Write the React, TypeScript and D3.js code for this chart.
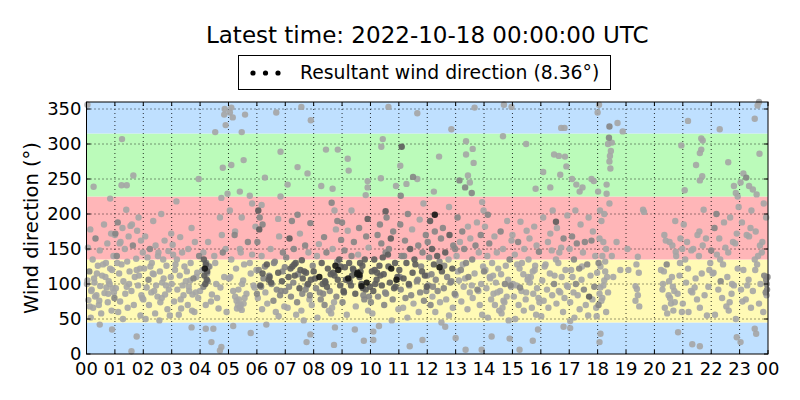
import React, {useEffect, useRef} from "react";
import * as d3 from "d3";

// each observation: [minute in the hour, wind direction (deg), shade 0..3]
type Obs = [number, number, number];

const h00: Obs[] = [[2,356,0],[15,239,0],[50,222,0],[28,42,0],[54,35,0],
  [37,185,0],[8,178,0],[52,172,0],[19,165,1],[44,158,0],[3,152,0],[28,148,0],[57,140,0],[13,135,0],[41,130,0],[24,126,0],[50,122,0],[6,118,1],[33,112,0],[16,108,0],[47,104,0],[1,100,0],[29,97,0],[55,94,0],[10,90,0],[38,87,0],[21,84,0],[59,80,1],[4,77,0],[45,74,0],[26,70,0],[14,66,0],[53,62,0],[31,58,0],[9,52,0],[42,95,0],[18,82,0],[49,100,0],[2,105,0],[35,128,0],[22,115,0],[58,88,0],[11,92,0],[40,110,0],[27,76,0],[7,68,0],[54,120,0],[17,102,0],[46,86,0]];
const h01: Obs[] = [[15,307,0],[14,241,0],[25,241,0],[39,255,0],[46,25,0],[35,4,0],
  [24,206,0],[50,195,0],[6,188,1],[33,183,0],[16,180,0],[47,176,0],[1,172,1],[29,168,0],[55,162,0],[10,158,0],[38,155,1],[21,150,0],[59,145,0],[4,140,1],[45,136,0],[26,132,0],[14,128,0],[53,122,0],[31,118,0],[9,115,0],[42,110,0],[18,104,0],[49,98,0],[2,94,0],[35,90,0],[22,86,0],[58,80,0],[11,75,0],[40,70,0],[27,66,0],[7,60,0],[54,55,0],[17,50,0],[46,120,0],[30,100,0],[0,170,0],[36,185,0],[12,160,0],[51,112,0],[25,96,0],[56,84,0],[5,130,0]];
const h02: Obs[] = [[38,200,0],[21,190,0],[59,172,0],[4,168,0],[45,162,0],[26,155,0],[14,150,1],[53,147,0],[31,140,0],[9,138,0],[42,135,0],[18,130,0],[49,126,0],[2,122,0],[35,118,0],[22,114,0],[58,110,0],[11,106,1],[40,102,0],[27,98,0],[7,95,0],[54,92,0],[17,88,0],[46,85,0],[30,82,0],[0,78,0],[36,74,0],[12,70,0],[51,64,0],[25,58,0],[56,55,0],[5,50,0],[34,48,0],[20,115,0],[48,98,0],[15,125,0],[43,108,0],[23,90,0],[39,80,0],[32,145,0]];
const h03: Obs[] = [[10,218,0],[57,250,0],[42,38,0],
  [42,180,0],[18,167,0],[49,160,0],[2,156,0],[35,150,0],[22,145,0],[58,140,1],[11,135,0],[40,130,0],[27,125,0],[7,120,0],[54,116,0],[17,112,0],[46,108,1],[30,104,0],[0,100,0],[36,96,0],[12,92,0],[51,88,0],[25,84,0],[56,80,0],[5,75,0],[34,70,0],[20,65,0],[48,60,0],[15,56,0],[43,62,0],[23,98,0],[39,105,0],[32,118,0],[37,90,0],[8,128,0],[52,110,0],[19,78,0],[44,85,0],[3,142,0]];
const h04: Obs[] = [[42,195,0],[45,223,0],[48,266,0],[51,342,0],[52,350,0],[54,327,0],[32,317,0],[58,229,0],[12,36,0],[28,36,0],[24,17,0],[45,10,0],[42,5,0],
  [8,135,2],[12,128,2],[10,122,3],[15,118,2],[9,112,2],[14,106,2],[11,100,2],[7,96,1],[16,104,1],[13,130,1],[18,125,1],
  [7,145,0],[54,150,0],[17,160,0],[46,170,0],[30,140,0],[0,90,0],[36,80,0],[12,70,0],[51,110,0],[25,85,0],[56,60,0],[5,120,0],[34,100,0],[20,125,0],[48,145,1],[15,115,0],[43,95,0],[23,75,0],[39,65,0],[32,130,0]];
const h05: Obs[] = [[3,345,0],[6,352,0],[9,338,0],[6,270,0],[28,317,0],[35,342,0],[32,277,0],[24,232,0],[45,226,0],[50,215,0],[10,40,0],[47,30,0],
  [14,82,0],[17,76,0],[20,70,0],[24,66,0],[28,63,0],[32,72,0],[34,80,0],[18,65,0],[22,78,0],[26,70,0],
  [3,205,0],[28,195,0],[57,182,0],[13,170,1],[41,160,1],[24,150,0],[50,142,0],[6,135,0],[33,128,0],[16,122,0],[47,115,0],[1,108,0],[29,100,0],[55,95,0],[10,90,0],[38,86,0],[21,92,0],[59,120,0],[4,110,0],[45,130,0],[26,145,0],[14,175,0],[53,98,0],[31,105,0]];
const h06: Obs[] = [[10,213,0],[17,252,0],[50,225,0],[41,345,0],[50,289,0],[20,42,0],
  [3,205,2],[6,195,1],[12,185,1],[5,178,2],[45,193,0],
  [47,168,0],[1,160,1],[29,150,0],[55,145,1],[10,140,0],[38,132,1],[21,128,2],[59,124,1],[4,120,1],[45,116,2],[26,112,1],[14,108,1],[53,104,2],[31,100,1],[9,96,1],[42,92,1],[18,88,0],[49,84,1],[2,80,0],[35,76,1],[22,72,0],[58,68,0],[11,64,0],[40,60,0],[27,110,2],[7,98,2],[54,118,1],[17,125,1],[46,54,0],[30,102,2],[0,86,1],[36,130,1],[12,115,2],[51,90,1],[25,106,2]];
const h07: Obs[] = [[34,353,0],[54,334,0],[26,267,0],[47,258,0],[5,242,0],[45,17,0],[53,28,0],
  [26,199,1],[14,190,1],[53,187,1],[31,172,0],[9,165,2],[42,155,1],[18,150,1],[49,145,0],[2,138,1],[35,134,2],[22,130,2],[58,126,1],[11,122,2],[40,118,2],[27,114,1],[7,110,2],[54,106,2],[17,102,1],[46,98,1],[30,94,2],[0,90,1],[36,86,1],[12,82,1],[51,78,0],[25,74,1],[56,70,0],[5,66,0],[34,62,0],[20,112,2],[48,100,2],[15,125,2],[43,92,1],[23,56,0],[39,48,0],[32,120,2],[37,108,2],[8,96,1],[52,84,1],[19,128,2],[44,116,2]];
const h08: Obs[] = [[26,292,0],[51,292,0],[16,240,0],[40,236,0],[38,216,1],[44,205,0],[50,190,1],[47,178,0],[45,38,0],[43,13,0],
  [22,167,1],[58,163,1],[11,157,0],[40,150,0],[27,145,1],[7,140,0],[54,135,2],[17,130,2],[46,126,3],[30,122,2],[0,118,2],[36,114,2],[12,110,3],[51,106,2],[25,102,2],[56,98,2],[5,94,1],[34,90,1],[20,86,1],[48,82,1],[15,78,1],[43,74,0],[23,70,1],[39,66,0],[32,62,0],[37,58,0],[8,52,0],[52,120,3],[19,100,2],[44,112,2],[3,108,2],[28,96,2],[57,125,2],[13,88,1],[41,116,2],[24,104,2],[50,132,1]];
const h09: Obs[] = [[12,279,0],[14,262,0],[54,247,0],[54,238,0],[50,227,0],[54,193,2],[20,205,0],[41,97,3],[37,113,3],[27,35,0],[46,19,0],
  [0,188,1],[36,180,1],[12,176,0],[51,168,1],[25,160,1],[56,152,0],[5,148,1],[34,142,0],[20,140,1],[48,135,2],[15,130,2],[43,126,2],[23,122,2],[39,118,2],[32,114,3],[37,110,2],[8,106,2],[52,102,3],[19,98,2],[44,94,2],[3,90,2],[28,86,2],[57,82,1],[13,108,3],[41,100,2],[24,120,2],[50,92,2],[6,124,2],[33,116,3],[16,104,2],[47,78,1],[1,74,1],[29,68,0],[55,62,0],[10,56,0],[38,130,2],[21,112,2],[59,96,2],[4,88,2],[45,84,1]];
const h10: Obs[] = [[38,353,0],[26,307,0],[23,296,0],[22,251,0],[54,240,0],[32,204,2],[6,20,0],[6,32,0],[18,40,0],
  [34,195,1],[20,185,1],[48,175,1],[15,170,1],[43,165,2],[23,158,1],[39,150,1],[32,145,1],[37,142,2],[8,135,2],[52,130,2],[19,126,2],[44,122,3],[3,118,2],[28,114,2],[57,110,2],[13,106,2],[41,102,2],[24,98,2],[50,94,2],[6,90,2],[33,86,1],[16,82,1],[47,78,1],[1,74,1],[29,70,1],[55,106,3],[10,100,2],[38,125,2],[21,112,2],[59,64,0],[4,58,0],[45,48,0],[26,138,2],[14,116,2],[53,96,2],[31,88,1],[9,120,2]];
const h11: Obs[] = [[39,344,0],[6,296,2],[3,269,0],[30,253,1],[39,250,0],[16,243,0],[4,226,1],[50,20,0],[23,11,0],
  [52,215,0],[19,200,1],[44,192,0],[3,185,1],[28,178,0],[57,170,1],[13,162,1],[41,155,1],[24,150,2],[50,145,1],[6,140,1],[33,135,2],[16,130,2],[47,125,1],[1,120,2],[29,116,2],[55,112,2],[10,108,2],[38,104,1],[21,100,2],[59,96,2],[4,92,1],[45,88,1],[26,84,1],[14,80,1],[53,76,1],[31,72,0],[9,66,0],[42,60,0],[18,52,0],[49,118,2],[2,110,1],[35,128,2],[22,98,1],[58,90,1],[11,140,1],[40,106,1]];
const h12: Obs[] = [[25,282,0],[51,321,0],[16,199,3],[26,124,3],[38,39,0],[14,232,0],[46,210,0],
  [6,190,2],[33,180,1],[16,175,1],[47,170,2],[1,160,1],[29,165,1],[55,155,1],[10,150,2],[38,145,2],[21,140,2],[59,150,1],[4,138,1],[45,135,0],[26,132,1],[14,128,2],[53,122,2],[31,118,2],[9,114,1],[42,110,1],[18,106,1],[49,102,1],[2,98,1],[35,94,1],[22,90,1],[58,86,1],[11,82,0],[40,78,0],[27,74,0],[7,70,1],[54,66,0],[17,60,0],[46,55,0],[30,45,0],[0,112,1],[36,126,1],[12,96,1],[51,104,1]];
const h13: Obs[] = [[40,352,0],[22,304,0],[36,293,0],[22,285,0],[38,273,0],[8,248,1],[26,255,0],[30,245,0],[20,238,1],[34,230,1],[56,217,0],[0,23,0],[21,6,0],[55,6,0],
  [59,205,0],[4,195,1],[45,188,0],[26,182,0],[14,175,1],[53,170,1],[31,165,0],[9,160,0],[42,155,1],[18,150,1],[49,145,0],[2,140,0],[35,135,1],[22,130,1],[58,125,0],[11,120,1],[40,115,0],[27,110,1],[7,105,0],[54,100,0],[17,96,0],[46,92,1],[30,88,0],[0,84,0],[36,80,0],[12,75,0],[51,70,0],[25,64,0],[56,56,0],[5,118,0],[34,98,0],[20,108,0],[48,90,0],[15,128,0]];
const h14: Obs[] = [[42,356,0],[58,353,0],[40,311,0],[8,199,1],[16,25,0],[54,22,0],
  [49,190,0],[2,182,0],[35,175,1],[22,168,0],[58,162,0],[11,158,1],[40,150,0],[27,145,0],[7,140,0],[54,135,1],[17,130,0],[46,126,0],[30,122,0],[0,118,1],[36,114,0],[12,110,0],[51,106,0],[25,102,0],[56,98,1],[5,94,0],[34,90,0],[20,86,0],[48,82,0],[15,78,0],[43,74,0],[23,70,0],[39,66,0],[32,62,0],[37,58,0],[8,52,0],[52,48,0],[19,112,0],[44,100,1],[3,120,0],[28,88,0],[57,96,0],[13,108,0],[41,76,0]];
const h15: Obs[] = [[29,300,0],[49,236,0],[15,6,0],[54,35,0],[43,19,0],
  [17,189,0],[46,182,0],[30,176,0],[0,170,0],[36,165,0],[12,160,1],[51,155,0],[25,150,0],[56,146,1],[5,142,0],[34,135,0],[20,130,0],[48,126,0],[15,122,0],[43,118,0],[23,114,0],[39,110,0],[32,106,0],[37,102,0],[8,98,0],[52,94,0],[19,90,0],[44,86,0],[3,82,0],[28,78,0],[57,74,0],[13,70,0],[41,66,0],[24,62,0],[50,56,0],[6,50,0],[33,110,0],[16,95,1],[47,120,0],[1,100,0],[29,88,0],[55,80,0],[10,128,0]];
const h16: Obs[] = [[43,323,0],[50,323,0],[28,285,0],[38,283,0],[51,282,0],[5,260,0],[54,268,0],[41,256,0],[20,238,0],[32,189,2],[48,39,0],
  [25,205,0],[56,198,0],[5,195,0],[34,180,0],[20,172,0],[48,165,1],[15,160,0],[43,152,0],[23,148,0],[39,145,0],[32,135,0],[37,130,0],[8,125,0],[52,120,0],[19,115,0],[44,110,0],[3,105,0],[28,100,1],[57,96,0],[13,92,0],[41,88,0],[24,84,0],[50,80,0],[6,76,0],[33,72,0],[16,66,0],[47,60,0],[1,54,0],[29,112,0],[55,98,0],[10,128,0],[38,90,0]];
const h17: Obs[] = [[6,250,0],[15,242,0],[22,232,0],[28,238,0],[47,250,0],[52,247,0],[2,37,0],[57,66,0],[2,47,0],
  [13,205,0],[41,195,0],[24,185,0],[50,175,0],[6,168,1],[33,160,1],[16,158,1],[47,162,1],[1,150,0],[29,145,0],[55,140,0],[10,135,1],[38,128,1],[21,122,1],[59,116,0],[4,120,0],[45,112,0],[26,106,0],[14,100,1],[53,96,1],[31,92,1],[9,88,0],[42,82,2],[18,84,0],[49,78,0],[2,74,0],[35,70,0],[22,64,0],[58,54,0],[11,52,0],[40,55,0],[27,125,0],[7,110,0]];
const h18: Obs[] = [[3,356,0],[0,345,0],[25,325,1],[42,330,0],[53,318,0],[24,309,1],[22,300,0],[30,302,0],[28,290,0],[26,283,0],[25,275,0],[27,265,0],[1,232,0],[19,242,0],[19,229,0],[25,215,0],[5,205,0],[14,200,0],[8,190,0],[4,165,0],[12,160,0],[18,150,0],[10,140,0],[2,130,1],[6,125,0],[16,118,0],[14,105,0],[20,110,0],[6,95,0],[4,86,0],[10,80,0],[2,70,1],[18,60,0],[6,29,0],[4,17,0],[40,160,0],[48,120,0],[30,140,0],[33,110,0],[12,98,0],[16,132,0],[8,76,0],[22,88,0]];
const h19: Obs[] = [[36,206,0],[38,203,0],[25,139,0],[22,128,0],[27,116,0],[20,97,0],[23,93,0],[25,84,0],[20,76,0],[28,68,0],[5,120,0],[3,150,0]];
const h20: Obs[] = [[57,298,0],[50,31,0],[44,190,0],
  [55,165,0],[32,160,0],[38,155,0],[21,170,0],[59,150,0],[24,162,0],[45,146,0],[26,128,1],[14,120,0],[53,112,0],[31,104,0],[39,96,0],[42,90,0],[18,100,0],[49,86,0],[33,80,0],[35,72,0],[22,66,0],[58,60,0],[43,74,0],[40,62,0],[27,58,0],[37,110,0],[54,130,0],[17,92,0],[46,140,0],[30,84,0],[20,118,0]];
const h21: Obs[] = [[11,333,0],[39,308,0],[42,305,0],[39,292,0],[36,287,0],[28,270,0],[41,254,0],[36,248,0],[4,234,0],[44,206,0],[20,14,0],[36,11,0],
  [31,170,0],[9,160,0],[42,155,0],[18,148,0],[49,165,0],[2,185,0],[35,175,0],[22,150,0],[58,130,0],[11,122,0],[40,115,0],[27,108,0],[7,102,0],[54,96,0],[17,90,0],[46,84,0],[30,78,0],[0,72,0],[36,66,0],[12,60,0],[51,55,0],[25,95,0],[56,120,0],[5,135,0],[34,140,0],[20,88,0]];
const h22: Obs[] = [[18,321,0],[36,274,0],[48,240,0],[52,230,0],[56,225,0],[54,24,0],
  [58,210,0],[11,200,1],[40,195,0],[27,188,0],[7,180,1],[54,172,0],[17,165,0],[46,160,0],[30,152,0],[0,148,1],[36,145,0],[12,142,0],[51,158,0],[25,128,0],[56,122,0],[5,116,0],[34,110,0],[20,104,1],[48,98,0],[15,92,0],[43,86,0],[23,80,0],[39,74,0],[32,68,0],[37,62,0],[8,56,0],[52,50,0],[19,135,0],[44,100,0],[3,115,0]];
const h23: Obs[] = [[41,360,0],[38,355,0],[32,336,0],[42,286,0],[2,245,0],[8,258,0],[14,252,1],[20,240,0],[28,235,0],[36,228,0],[2,17,0],[32,36,0],[35,29,0],
  [51,215,0],[25,205,0],[56,195,0],[5,188,0],[34,175,0],[20,168,0],[48,160,0],[15,170,0],[43,155,0],[23,180,0],[39,140,0],[32,135,0],[37,128,0],[8,120,0],[52,112,1],[19,106,0],[44,100,0],[3,92,0],[28,90,0],[57,84,0],[13,78,0],[41,72,0],[24,66,0],[50,60,0],[6,75,0],[33,120,0],[16,98,0],[47,145,0],
  [57,100,1],[58,92,1],[56,106,1],[59,110,1],[55,88,1]];

const hourly = [h00, h01, h02, h03, h04, h05, h06, h07, h08, h09, h10, h11, h12, h13, h14, h15, h16, h17, h18, h19, h20, h21, h22, h23];

// direction sectors shaded behind the points
const sectorEdges = [0, 45, 135, 225, 315, 360];
const sectorColors = ["#bfe0ff", "#fffab5", "#ffb6b8", "#bbfbba", "#bfe0ff"];

const yTicks = [0, 50, 100, 150, 200, 250, 300, 350];
const xTicks = d3.range(0, 25);

const title = "Latest time: 2022-10-18 00:00:00 UTC";
const legendLabel = "Resultant wind direction (8.36°)";
const yLabel = "Wind direction (°)";

function drawChart(el: SVGSVGElement) {
  const svg = d3.select(el);
  svg.selectAll("*").remove();

  const margin = {top: 102, right: 32, bottom: 46, left: 86.5};
  const width = 800, height = 400;
  const font = "DejaVu Sans, sans-serif";

  const x = d3.scaleLinear().domain([0, 24]).range([margin.left, width - margin.right]);
  const y = d3.scaleLinear().domain([0, 360]).range([height - margin.bottom, margin.top]);

  svg.append("rect").attr("width", width).attr("height", height).attr("fill", "white");

  // sector bands
  svg.append("g").selectAll("rect")
    .data(sectorColors)
    .enter()
    .append("rect")
    .attr("x", x(0))
    .attr("width", x(24) - x(0))
    .attr("y", (d, i) => y(sectorEdges[i + 1]))
    .attr("height", (d, i) => y(sectorEdges[i]) - y(sectorEdges[i + 1]))
    .attr("fill", (d) => d);

  // dotted grid
  const grid = svg.append("g").attr("stroke", "black").attr("stroke-width", 0.8).attr("stroke-dasharray", "1,3");
  xTicks.slice(1, -1).forEach((t) => {
    grid.append("line").attr("x1", x(t)).attr("x2", x(t)).attr("y1", y(0)).attr("y2", y(360));
  });
  yTicks.slice(1).forEach((t) => {
    grid.append("line").attr("x1", x(0)).attr("x2", x(24)).attr("y1", y(t)).attr("y2", y(t));
  });

  // observations, darker ones on top
  const points = hourly
    .flatMap((arr, h) => arr.map(([m, dir, s]) => ({t: h + m / 60, dir, s})))
    .sort((a, b) => a.s - b.s);
  const shade = d3.scaleLinear<string>().domain([0, 1, 2, 3]).range(["#a5a5a5", "#858585", "#5c5c5c", "#151515"]);

  svg.append("g").selectAll("circle")
    .data(points)
    .enter()
    .append("circle")
    .attr("cx", (d) => x(d.t))
    .attr("cy", (d) => y(d.dir))
    .attr("r", 3.2)
    .attr("fill", (d) => shade(d.s))
    .attr("fill-opacity", 0.9);

  // frame
  svg.append("rect")
    .attr("x", x(0)).attr("y", y(360))
    .attr("width", x(24) - x(0)).attr("height", y(0) - y(360))
    .attr("fill", "none").attr("stroke", "black").attr("stroke-width", 1);

  // inward ticks on all sides
  const ticks = svg.append("g").attr("stroke", "black").attr("stroke-width", 1);
  xTicks.forEach((t) => {
    ticks.append("line").attr("x1", x(t)).attr("x2", x(t)).attr("y1", y(0)).attr("y2", y(0) - 4);
    ticks.append("line").attr("x1", x(t)).attr("x2", x(t)).attr("y1", y(360)).attr("y2", y(360) + 4);
  });
  yTicks.forEach((t) => {
    ticks.append("line").attr("x1", x(0)).attr("x2", x(0) + 4).attr("y1", y(t)).attr("y2", y(t));
    ticks.append("line").attr("x1", x(24)).attr("x2", x(24) - 4).attr("y1", y(t)).attr("y2", y(t));
  });

  // tick labels
  svg.append("g").selectAll("text")
    .data(xTicks)
    .enter()
    .append("text")
    .attr("x", (d) => x(d))
    .attr("y", y(0) + 21)
    .attr("text-anchor", "middle")
    .attr("font-family", font)
    .attr("font-size", 18)
    .text((d) => d3.format("02d")(d % 24));

  svg.append("g").selectAll("text")
    .data(yTicks)
    .enter()
    .append("text")
    .attr("x", x(0) - 5)
    .attr("y", (d) => y(d))
    .attr("dy", "0.36em")
    .attr("text-anchor", "end")
    .attr("font-family", font)
    .attr("font-size", 18)
    .text((d) => d);

  // y-axis label
  svg.append("text")
    .attr("transform", `translate(38, ${(y(0) + y(360)) / 2}) rotate(-90)`)
    .attr("text-anchor", "middle")
    .attr("font-family", font)
    .attr("font-size", 19.5)
    .text(yLabel);

  // title
  const cx = (x(0) + x(24)) / 2;
  svg.append("text")
    .attr("x", cx)
    .attr("y", 43)
    .attr("text-anchor", "middle")
    .attr("font-family", font)
    .attr("font-size", 23)
    .text(title);

  // legend
  const legend = svg.append("g");
  legend.append("rect")
    .attr("x", 238.5).attr("y", 55.5).attr("width", 372).attr("height", 34)
    .attr("fill", "white").attr("stroke", "black").attr("stroke-width", 1);
  [253, 265.5, 278].forEach((lx) => {
    legend.append("circle").attr("cx", lx).attr("cy", 73).attr("r", 2.6).attr("fill", "black");
  });
  legend.append("text")
    .attr("x", 300)
    .attr("y", 79)
    .attr("font-family", font)
    .attr("font-size", 18.8)
    .text(legendLabel);
}

export default function App() {
  const ref = useRef<SVGSVGElement>(null);
  useEffect(() => {
    if (ref.current) drawChart(ref.current);
  }, []);
  return (
    <div style={{margin: -8}}>
      <svg ref={ref} width={800} height={400} style={{display: "block"}}></svg>
    </div>
  );
}
